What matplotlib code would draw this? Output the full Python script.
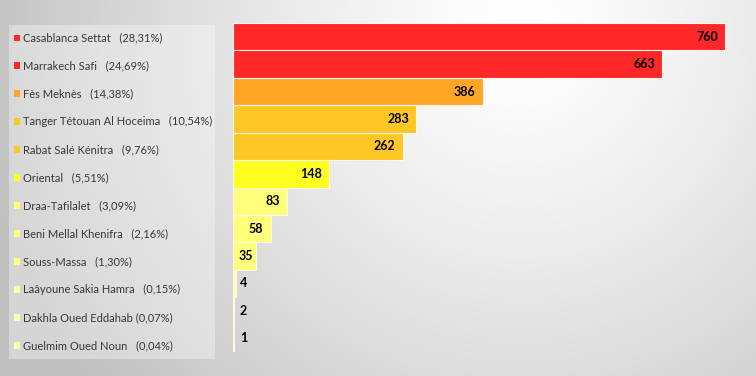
import numpy as np
import matplotlib
matplotlib.use("Agg")
import matplotlib.pyplot as plt
from matplotlib.patches import Rectangle

regions = ["Casablanca Settat", "Marrakech Safi", "Fès Meknès", "Tanger Tétouan Al Hoceima",
           "Rabat Salé Kénitra", "Oriental", "Draa-Tafilalet", "Beni Mellal Khenifra",
           "Souss-Massa", "Laâyoune Sakia Hamra", "Dakhla Oued Eddahab", "Guelmim Oued Noun"]
counts = [760, 663, 386, 283, 262, 148, 83, 58, 35, 4, 2, 1]
shares = ["28,31%", "24,69%", "14,38%", "10,54%", "9,76%", "5,51%",
          "3,09%", "2,16%", "1,30%", "0,15%", "0,07%", "0,04%"]
colors = ["#ff2828", "#ff2828", "#ffa626", "#ffc726", "#ffc726", "#ffff22",
          "#ffff7a", "#ffff7a", "#ffff7a", "#ffffa8", "#ffffa8", "#ffffa8"]
gaps = ["   ", "   ", "   ", "   ", "   ", "   ", "   ", "   ", "   ", "   ", " ", "   "]

plt.rcParams['font.family'] = ['Lato', 'DejaVu Sans']

W, H = 756, 376
fig = plt.figure(figsize=(W / 100, H / 100), dpi=100)

# radial gradient background
bg = fig.add_axes([0, 0, 1, 1], zorder=-10)
yy, xx = np.mgrid[0:H, 0:W]
r = np.sqrt((xx - 520) ** 2 + (yy - 30) ** 2)
t = np.clip(r / 560, 0, 1)
g = 1.0 - 0.25 * t ** 1.3
bg.imshow(np.dstack([g, g, g]), extent=[0, W, H, 0], aspect='auto')
bg.set_xlim(0, W)
bg.set_ylim(H, 0)
bg.axis('off')

# legend panel
bg.add_patch(Rectangle((9, 25), 206, 334, facecolor='white', alpha=0.35, edgecolor='none'))
ys = np.linspace(38, 345.5, len(regions))
for y, name, gap, pct, c in zip(ys, regions, gaps, shares, colors):
    bg.add_patch(Rectangle((13.5, y - 3.5), 6.5, 6.5, facecolor=c, edgecolor='none'))
    bg.text(23, y, name + gap + "(" + pct + ")", fontsize=8.0, color='#383838',
            va='center', ha='left')

# bars
ax = fig.add_axes([233 / W, 1 - 352 / H, (725 - 233) / W, (352 - 23) / H])
ax.patch.set_alpha(0)
y = np.arange(len(counts))
ax.barh(y, counts, height=1.0, color=colors, edgecolor='#fff8e8', linewidth=0.8)
ax.set_xlim(0, 760)
ax.set_ylim(len(counts) - 0.5, -0.5)
for i, v in enumerate(counts):
    x = v - 11 if v >= 50 else max(v - 4, 22)
    ax.text(x, i, str(v), ha='right', va='center', fontsize=9, fontweight='bold', color='black')
ax.axis('off')

fig.savefig("out.png", dpi=100)
